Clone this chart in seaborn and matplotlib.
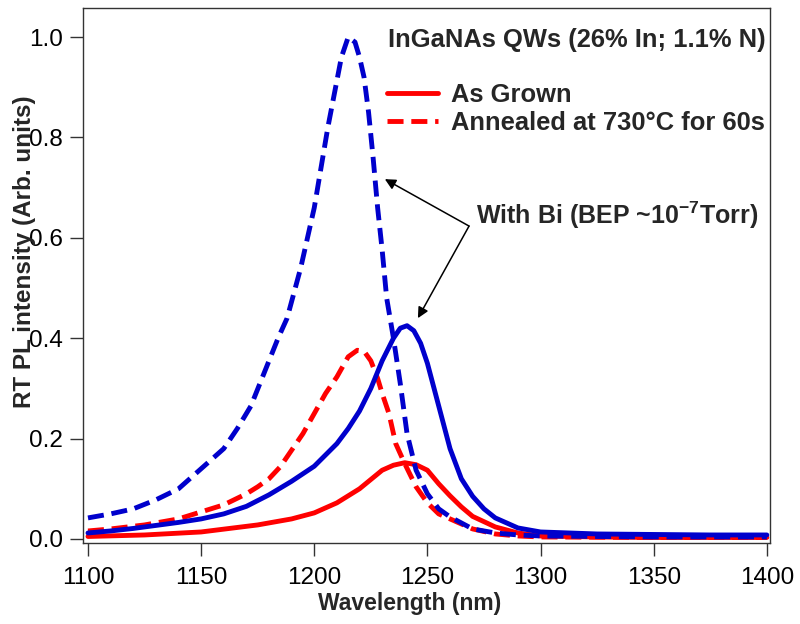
import matplotlib
matplotlib.use("Agg")
import matplotlib.pyplot as plt
import seaborn as sns
import pandas as pd
from matplotlib.lines import Line2D

# ---- data ----
wl_grown = [1100, 1125, 1150, 1175, 1190, 1200, 1210, 1220, 1230, 1235, 1240, 1245, 1250,
            1255, 1260, 1265, 1270, 1280, 1290, 1300, 1325, 1350, 1400]
pl_grown = [0.005, 0.008, 0.014, 0.028, 0.040, 0.052, 0.072, 0.100, 0.137, 0.147, 0.152, 0.148, 0.137,
            0.110, 0.086, 0.064, 0.045, 0.024, 0.012, 0.006, 0.004, 0.003, 0.003]

wl_annealed = [1100, 1110, 1125, 1140, 1150, 1160, 1170, 1175, 1180, 1185, 1190, 1195, 1200, 1205,
               1210, 1215, 1219, 1222, 1225, 1228, 1230, 1233, 1236, 1240, 1245, 1250, 1255, 1260,
               1270, 1280, 1290, 1300, 1350, 1400]
pl_annealed = [0.016, 0.020, 0.028, 0.040, 0.054, 0.068, 0.090, 0.104, 0.120, 0.144, 0.177, 0.210, 0.250, 0.290,
               0.323, 0.363, 0.376, 0.374, 0.355, 0.320, 0.290, 0.250, 0.190, 0.150, 0.104, 0.072, 0.050, 0.040,
               0.020, 0.010, 0.006, 0.004, 0.003, 0.003]

wl_bi_grown = [1100, 1110, 1120, 1130, 1140, 1150, 1160, 1170, 1180, 1190, 1200, 1210, 1215, 1220, 1225,
               1230, 1235, 1238, 1241, 1244, 1247, 1250, 1255, 1260, 1265, 1270, 1275, 1280, 1290, 1300,
               1325, 1350, 1375, 1400]
pl_bi_grown = [0.012, 0.016, 0.021, 0.027, 0.033, 0.040, 0.050, 0.065, 0.088, 0.115, 0.145, 0.190, 0.220, 0.255, 0.300,
               0.355, 0.400, 0.420, 0.425, 0.415, 0.390, 0.350, 0.265, 0.180, 0.120, 0.085, 0.060, 0.042, 0.022, 0.014,
               0.010, 0.009, 0.008, 0.008]

wl_bi_annealed = [1100, 1110, 1120, 1130, 1140, 1150, 1160, 1166, 1172, 1176, 1180, 1184, 1188, 1191, 1194,
                  1197, 1200, 1203, 1206, 1209, 1212, 1215, 1218, 1220, 1222, 1224, 1226, 1228, 1230, 1232,
                  1235, 1238, 1241, 1245, 1250, 1255, 1260, 1270, 1280, 1290, 1300, 1325, 1350, 1375, 1400]
pl_bi_annealed = [0.042, 0.050, 0.060, 0.078, 0.100, 0.140, 0.180, 0.220, 0.265, 0.310, 0.355, 0.400, 0.440, 0.490, 0.540,
                  0.600, 0.660, 0.740, 0.820, 0.890, 0.960, 1.000, 0.990, 0.960, 0.920, 0.850, 0.760, 0.660, 0.576, 0.480,
                  0.400, 0.310, 0.210, 0.137, 0.090, 0.060, 0.044, 0.020, 0.012, 0.008, 0.006, 0.005, 0.004, 0.004, 0.004]

x_ticks = [1100, 1150, 1200, 1250, 1300, 1350, 1400]
y_ticks = [0.0, 0.2, 0.4, 0.6, 0.8, 1.0]

title_text = "InGaNAs QWs (26% In; 1.1% N)"
legend_labels = ["As Grown", "Annealed at 730°C for 60s"]
bi_text = r"With Bi (BEP ~10$^{-7}$Torr)"

# ---- style ----
sns.set_style("ticks")
plt.rcParams["font.family"] = ["Liberation Sans", "DejaVu Sans"]
plt.rcParams["mathtext.fontset"] = "custom"
plt.rcParams["mathtext.rm"] = "Liberation Sans:bold"
plt.rcParams["mathtext.bf"] = "Liberation Sans:bold"
plt.rcParams["mathtext.default"] = "bf"

RED = "#ff0000"
BLUE = "#0000cc"
LW = 3.5
DASH = (0, (3.3, 1.6))
FS_TICK = 17.5
FS_ANN = 18.4

fig = plt.figure(figsize=(8.0, 6.24), dpi=100)
ax = fig.add_axes([83 / 800, 1 - 543 / 624, 687 / 800, 535 / 624])

sns.lineplot(x=wl_grown, y=pl_grown, ax=ax, color=RED, lw=LW, linestyle="-", sort=False)
sns.lineplot(x=wl_annealed, y=pl_annealed, ax=ax, color=RED, lw=LW, linestyle=DASH, sort=False)
sns.lineplot(x=wl_bi_grown, y=pl_bi_grown, ax=ax, color=BLUE, lw=LW, linestyle="-", sort=False)
sns.lineplot(x=wl_bi_annealed, y=pl_bi_annealed, ax=ax, color=BLUE, lw=LW, linestyle=DASH, sort=False)

ax.set_xlim(1097.8, 1401.4)
ax.set_ylim(-0.008, 1.058)
ax.set_xticks(x_ticks)
ax.set_xticklabels([str(v) for v in x_ticks])
ax.set_yticks(y_ticks)
ax.set_yticklabels([f"{v:.1f}" for v in y_ticks])
ax.tick_params(axis="both", direction="out", length=9.5, width=1.0, labelsize=FS_TICK, color="#333333",
               labelcolor="black", pad=5)
ax.tick_params(axis="x", pad=8)
for s in ax.spines.values():
    s.set_visible(True)
    s.set_color("#333333")
    s.set_linewidth(1.0)

ax.set_xlabel("Wavelength (nm)", fontsize=16.5, fontweight="bold")
ax.set_ylabel("RT PL intensity (Arb. units)", fontsize=17.5, fontweight="bold")
ax.xaxis.set_label_coords(0.476, -0.092)
ax.yaxis.set_label_coords(-0.068, 0.545)

ax.text(0.993, 0.940, title_text, transform=ax.transAxes, ha="right", va="center",
        fontsize=FS_ANN, fontweight="bold")

handles = [Line2D([], [], color=RED, lw=LW, linestyle="-"),
           Line2D([], [], color=RED, lw=LW, linestyle=DASH)]
ax.legend(handles, legend_labels, loc="upper left", bbox_to_anchor=(0.4425, 0.86),
          frameon=False, prop={"weight": "bold", "size": FS_ANN},
          handlelength=2.0, handletextpad=0.5, labelspacing=0.16, borderpad=0, borderaxespad=0)

ax.text(0.572, 0.613, bi_text, transform=ax.transAxes, ha="left", va="center",
        fontsize=18.0, fontweight="bold")

start = (1268.4, 0.6235)
for tip in [(1231.2, 0.717), (1245.8, 0.44)]:
    ax.annotate("", xy=tip, xytext=start, xycoords="data", textcoords="data",
                arrowprops=dict(arrowstyle="-|>", color="black", lw=1.1, mutation_scale=16,
                                shrinkA=0, shrinkB=0))

fig.savefig("out.png", dpi=100)
